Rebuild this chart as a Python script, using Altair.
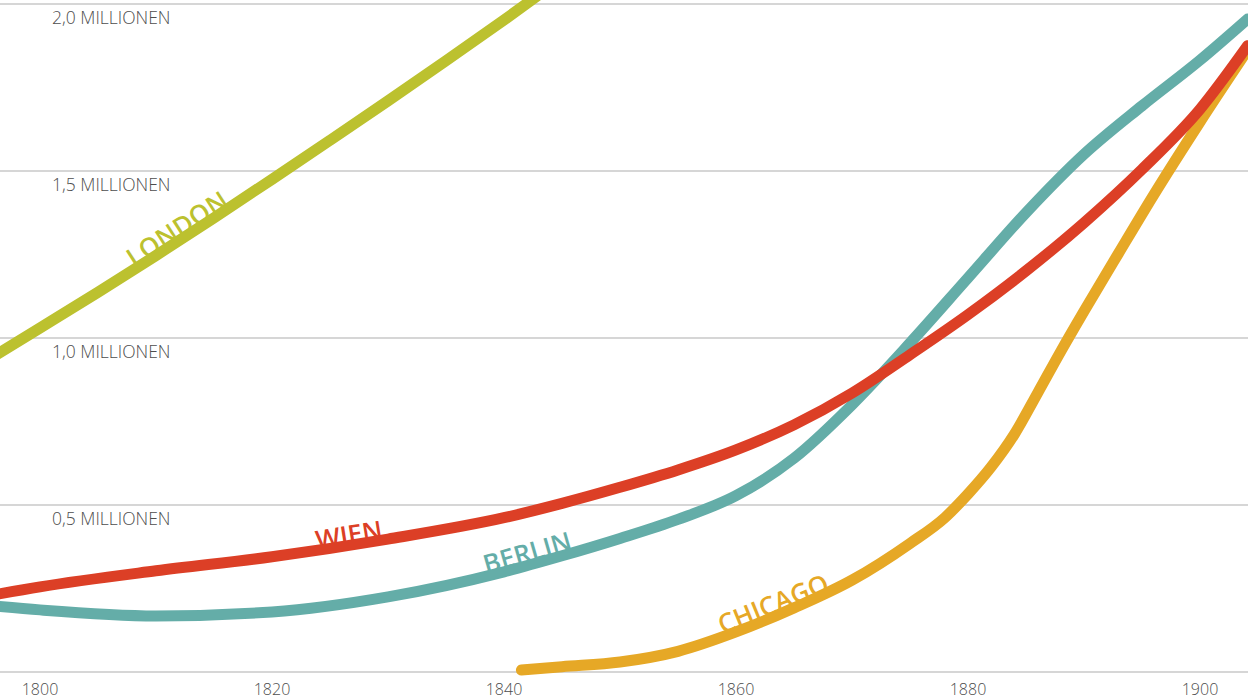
import altair as alt
import pandas as pd

# ---------------- data (population in millions) ----------------
london_years = [1796, 1800, 1805, 1810, 1815, 1820, 1825, 1830, 1835, 1840, 1845]
london_vals = [0.945, 1.030, 1.137, 1.247, 1.360, 1.475, 1.592, 1.710, 1.830, 1.952, 2.078]

wien_years = [1796, 1800, 1810, 1820, 1830, 1840, 1845, 1850, 1855, 1860, 1865, 1870, 1875,
              1880, 1885, 1890, 1895, 1900, 1904.1]
wien_vals = [0.231, 0.255, 0.303, 0.345, 0.398, 0.462, 0.505, 0.553, 0.605, 0.665, 0.740,
             0.835, 0.950, 1.070, 1.201, 1.345, 1.505, 1.685, 1.875]

berlin_years = [1796, 1800, 1810, 1820, 1830, 1840, 1845, 1850, 1855, 1860, 1865, 1870,
                1875, 1880, 1885, 1890, 1895, 1900, 1904.1]
berlin_vals = [0.198, 0.186, 0.168, 0.180, 0.225, 0.300, 0.348, 0.400, 0.457, 0.528, 0.640,
               0.800, 0.985, 1.180, 1.375, 1.550, 1.695, 1.832, 1.955]

chicago_years = [1841.5, 1845, 1850, 1855, 1860, 1865, 1870, 1875, 1878, 1880, 1882, 1884,
                 1886, 1888, 1890, 1893, 1896, 1900, 1904.1]
chicago_vals = [0.006, 0.016, 0.030, 0.062, 0.120, 0.192, 0.275, 0.385, 0.462, 0.533, 0.614,
                0.712, 0.835, 0.960, 1.080, 1.255, 1.428, 1.647, 1.862]

grid_values = [0.0, 0.5, 1.0, 1.5, 2.0]
y_label_values = [0.5, 1.0, 1.5, 2.0]
y_label_texts = ["0,5 MILLIONEN", "1,0 MILLIONEN", "1,5 MILLIONEN", "2,0 MILLIONEN"]

x_tick_years = [1800, 1820, 1840, 1860, 1880, 1900]
x_tick_texts = ["1800", "1820", "1840", "1860", "1880", "1900"]

# series label annotations: name, anchor year, anchor value, angle
label_names = ["LONDON", "WIEN", "BERLIN", "CHICAGO"]
label_years = [1812.4, 1826.8, 1842.3, 1863.6]
label_vals = [1.296, 0.374, 0.322, 0.170]
label_angles = [327, 351, 344, 338]

colors = {
    "LONDON": "#bcc12f",
    "WIEN": "#dc3f26",
    "BERLIN": "#64ada8",
    "CHICAGO": "#e6a826",
}

# ---------------- chart ----------------
W, H = 1248, 700
x_scale = alt.Scale(domain=[1796.552, 1904.138], nice=False, zero=False)
y_scale = alt.Scale(domain=[-0.0838, 2.012], nice=False, zero=False)
FONT = "Open Sans"

grid = alt.Chart(pd.DataFrame({"v": grid_values})).mark_rule(
    color="#c9c9c9", strokeWidth=1.6
).encode(
    y=alt.Y("v:Q", scale=y_scale, axis=None),
    x=alt.value(0),
    x2=alt.value(W),
)

y_labels = alt.Chart(pd.DataFrame({"v": y_label_values, "t": y_label_texts})).mark_text(
    align="left", baseline="middle", dy=15, font=FONT, fontSize=17.5, fontWeight=300,
    color="#4d4d4d"
).encode(
    y=alt.Y("v:Q", scale=y_scale, axis=None),
    x=alt.value(52),
    text="t:N",
)

x_labels = alt.Chart(pd.DataFrame({"yr": x_tick_years, "t": x_tick_texts})).mark_text(
    align="center", baseline="middle", font=FONT, fontSize=16, fontWeight=300,
    color="#4d4d4d"
).encode(
    x=alt.X("yr:Q", scale=x_scale, axis=None),
    y=alt.value(690),
    text="t:N",
)


def line_layer(years, vals, color):
    df = pd.DataFrame({"year": years, "pop": vals})
    return alt.Chart(df).mark_line(
        color=color, strokeWidth=11, strokeCap="round", interpolate="monotone", clip=True
    ).encode(
        x=alt.X("year:Q", scale=x_scale, axis=None),
        y=alt.Y("pop:Q", scale=y_scale, axis=None),
    )


lines = [
    line_layer(london_years, london_vals, colors["LONDON"]),
    line_layer(berlin_years, berlin_vals, colors["BERLIN"]),
    line_layer(chicago_years, chicago_vals, colors["CHICAGO"]),
    line_layer(wien_years, wien_vals, colors["WIEN"]),
]

labels = []
for name, yr, v, ang in zip(label_names, label_years, label_vals, label_angles):
    df = pd.DataFrame({"year": [yr], "pop": [v], "t": [name]})
    labels.append(
        alt.Chart(df).mark_text(
            align="center", baseline="alphabetic", dy=-3, angle=ang,
            font=FONT, fontSize=26, fontWeight=600, color=colors[name]
        ).encode(
            x=alt.X("year:Q", scale=x_scale, axis=None),
            y=alt.Y("pop:Q", scale=y_scale, axis=None),
            text="t:N",
        )
    )

chart = alt.layer(grid, y_labels, x_labels, *lines, *labels).properties(
    width=W, height=H, padding=0, autosize="none", background="white"
).configure_view(stroke=None)

chart.save("out.html", embed_options={"renderer": "svg", "actions": False})
